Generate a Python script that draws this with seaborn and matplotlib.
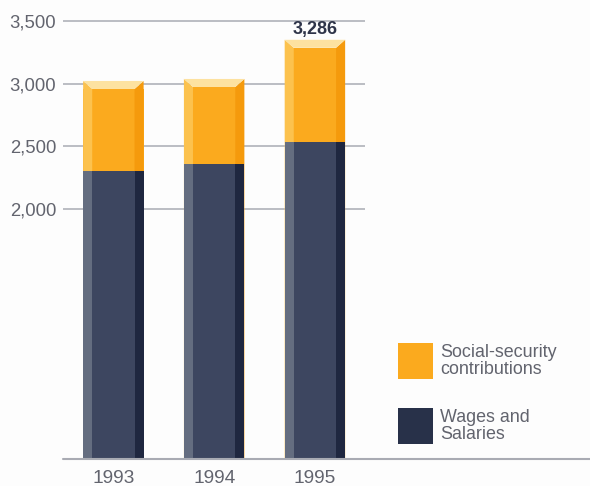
import matplotlib
matplotlib.use("Agg")
import matplotlib.pyplot as plt
from matplotlib.patches import Polygon, Rectangle
import numpy as np
import pandas as pd
import seaborn as sns

years = ["1993", "1994", "1995"]
wages = [2300, 2357, 2533]
social = [657, 616, 753]
totals = [w + s for w, s in zip(wages, social)]
yticks = [2000, 2500, 3000, 3500]
series_names = ["Social-security\ncontributions", "Wages and\nSalaries"]

sns.set_theme(style="white")
plt.rcParams["font.family"] = ["Liberation Sans", "DejaVu Sans"]

TEXT = "#62646e"
ORANGE = {"front": "#fbaa1e", "left": "#fcc24e", "right": "#f59a0c", "top": "#fde2a0"}
NAVY = {"front": "#3d4660", "left": "#646d80", "right": "#1f2740"}

W, H = 590, 486
fig = plt.figure(figsize=(W / 100, H / 100), dpi=100)
fig.patch.set_facecolor("#fdfdfd")
ax = fig.add_axes([63 / W, (H - 459) / H, 1 - 63 / W, 459 / H])
ax.set_facecolor("none")

df = pd.DataFrame({"year": years, "total": totals, "wages": wages})
sns.barplot(data=df, x="year", y="total", color=ORANGE["front"], width=0.6,
            saturation=1, linewidth=0, ax=ax, zorder=3)
n_total = len(ax.patches)
sns.barplot(data=df, x="year", y="wages", color=NAVY["front"], width=0.6,
            saturation=1, linewidth=0, ax=ax, zorder=4)

ax.set_xlim(-0.5, 4.73)
ax.set_ylim(0, 3668)

# bevelled 3D look: side strips and a top face on each bar
bars = ax.patches
strip = 0.15
depth = 64
for i, p in enumerate(list(bars)):
    p.set_edgecolor("none")
    x0, w, h = p.get_x(), p.get_width(), p.get_height()
    s = w * strip
    x1 = x0 + w
    if i < n_total:
        c = ORANGE
        ax.add_patch(Polygon([(x0, 0), (x0, h + depth), (x0 + s, h), (x0 + s, 0)],
                             closed=True, facecolor=c["left"], lw=0, zorder=3.5))
        ax.add_patch(Polygon([(x1, 0), (x1, h + depth), (x1 - s, h), (x1 - s, 0)],
                             closed=True, facecolor=c["right"], lw=0, zorder=3.5))
        ax.add_patch(Polygon([(x0, h + depth), (x1, h + depth), (x1 - s, h), (x0 + s, h)],
                             closed=True, facecolor=c["top"], lw=0, zorder=3.5))
    else:
        c = NAVY
        ax.add_patch(Rectangle((x0, 0), s, h, facecolor=c["left"], lw=0, zorder=4.5))
        ax.add_patch(Rectangle((x1 - s, 0), s, h, facecolor=c["right"], lw=0, zorder=4.5))

# horizontal gridlines over the bar area only
ax.hlines(yticks, -0.5, 2.5, color="#a9abb3", lw=1.1, zorder=1)
ax.axhline(0, color="#a9abb3", lw=1.5, zorder=6, clip_on=False)

ax.set_yticks(yticks)
ax.set_yticklabels([f"{v:,}" for v in yticks], color=TEXT, fontsize=13.3)
ax.tick_params(axis="y", length=0, pad=5)
ax.tick_params(axis="x", length=0, pad=8, labelsize=13.8, labelcolor=TEXT)
ax.set_xlabel("")
ax.set_ylabel("")
for sp in ax.spines.values():
    sp.set_visible(False)

# total label on the last bar
ax.text(2, totals[2] + depth + 15, f"{totals[2]:,}", ha="center", va="bottom",
        fontsize=13, fontweight="bold", color="#2e3449", zorder=7)

# legend
leg_items = [(series_names[0], ORANGE["front"], 343), (series_names[1], "#283149", 408)]
for label, col, ytop in leg_items:
    fig.add_artist(Rectangle((398 / W, (H - ytop - 36) / H), 35 / W, 36 / H,
                             transform=fig.transFigure, facecolor=col, lw=0))
    fig.text(440 / W, (H - ytop - 18) / H, label, ha="left", va="center",
             fontsize=12.9, color=TEXT, linespacing=1.05)

fig.savefig("out.png", dpi=100, facecolor=fig.get_facecolor())
